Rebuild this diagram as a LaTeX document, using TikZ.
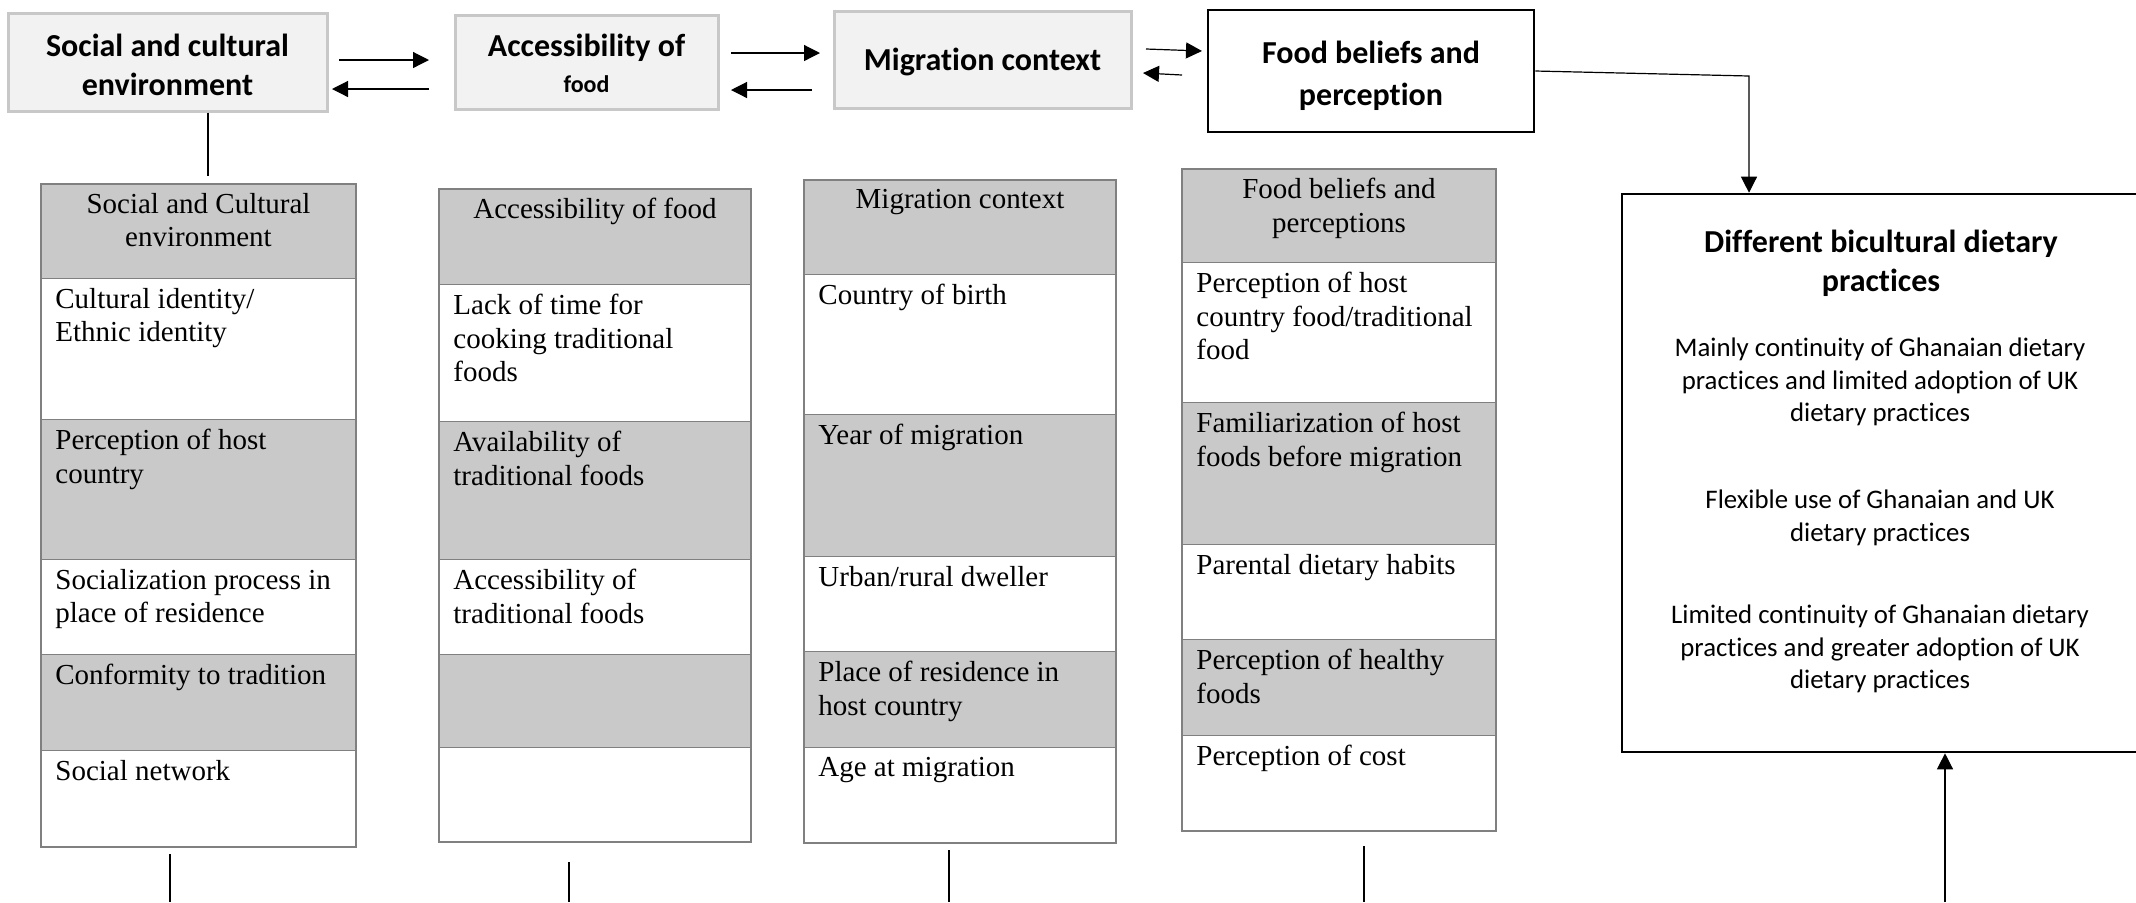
\documentclass[tikz,border=0pt]{standalone}
\usepackage{fontspec}
\setmainfont{Liberation Serif}
\newfontfamily\calibri[Ligatures=NoCommon]{Carlito}
\usetikzlibrary{arrows.meta,fit}

\definecolor{topfill}{HTML}{F2F2F2}
\definecolor{topline}{HTML}{C8C8C8}
\definecolor{cellgray}{HTML}{C9C9C9}
\definecolor{framegray}{HTML}{808080}

\tikzset{
  topbox/.style={draw=topline, fill=topfill, line width=1.5pt, inner sep=0pt},
  keybox/.style={draw=black, fill=white, line width=1.3pt, inner sep=0pt},
  toptext/.style={align=center, font=\calibri\bfseries\fontsize{16}{19.5}\selectfont},
  colframe/.style={draw=framegray, line width=1.2pt, inner sep=0pt},
  rowline/.style={draw=framegray, line width=1.2pt},
  celltext/.style={anchor=north west, inner xsep=7pt, inner ysep=4.4pt, align=left,
    font=\fontsize{14.5}{16.7}\selectfont},
  headtext/.style={anchor=north, inner xsep=0pt, inner ysep=4.4pt, align=center,
    font=\fontsize{14.5}{16.7}\selectfont},
  outtitle/.style={align=center, inner sep=0pt, font=\calibri\bfseries\fontsize{16}{19.5}\selectfont},
  outtext/.style={align=center, inner sep=0pt, font=\calibri\fontsize{13.4}{16.3}\selectfont},
  link/.style={line width=0.6pt},
  arr/.style={link, -{Triangle[length=8pt,width=8pt]}},
}

% one row of a factor column: name, x1, y1, x2, y2, fill, text
\newcommand\cellbox[7]{%
  \fill[#6] (#2,#3) rectangle (#4,#5);
  \node[celltext] (#1) at (#2,#3) {#7};
  \draw[rowline] (#2,#5) -- (#4,#5);}
% header row of a factor column: name, x1, y1, x2, y2, x-middle, text
\newcommand\headbox[7]{%
  \fill[cellgray] (#2,#3) rectangle (#4,#5);
  \node[headtext] (#1) at (#6,#3) {#7};
  \draw[rowline] (#2,#5) -- (#4,#5);}

\begin{document}
\begin{tikzpicture}[x=0.5pt,y=-0.5pt]
\useasboundingbox (0,0) rectangle (2136,902);

% ---- top row of influence boxes ----
\node[topbox, fit={(8,13) (327,111)}] (b1) {};
\node[toptext] (b1t) at ([yshift=-1.4pt]b1.center) {Social and cultural\\environment};
\node[topbox, fit={(455,15) (718,109)}] (b2) {};
\node[toptext] (b2t) at ([yshift=-0.8pt]b2.center)
  {Accessibility of\\[-1.6pt]{\fontsize{12}{14}\selectfont food}};
\node[topbox, fit={(834,11) (1131,108)}] (b3) {};
\node[toptext] (b3t) at ([yshift=-1.4pt]b3.center) {Migration context};
\node[keybox, fit={(1208,10) (1534,132)}] (b4) {};
\node[toptext] (b4t) at ([yshift=-2.4pt]b4.center) {Food beliefs and\\[1.2pt]perception};

% arrows between the top boxes
\coordinate (a1s) at (339,60);  \coordinate (a1e) at (429,60);
\coordinate (a2s) at (429,89);  \coordinate (a2e) at (332,89);
\coordinate (a3s) at (731,53);  \coordinate (a3e) at (820,53);
\coordinate (a4s) at (812,90);  \coordinate (a4e) at (731,90);
\coordinate (a5s) at (1146,49); \coordinate (a5e) at (1202,51);
\coordinate (a6s) at (1182,75); \coordinate (a6e) at (1143,73);
\draw[arr] (a1s) -- (a1e);
\draw[arr] (a2s) -- (a2e);
\draw[arr] (a3s) -- (a3e);
\draw[arr] (a4s) -- (a4e);
\draw[arr] (a5s) -- (a5e);
\draw[arr] (a6s) -- (a6e);

% ---- outcome box ----
\node[draw=black, line width=1.3pt, inner sep=0pt, fit={(1622,194) (2150,752)}] (rb) {};
\node[outtitle] (rbt) at (1881,263) {Different bicultural dietary\\practices};
\node[outtext] (rb1) at (1880,382) {Mainly continuity of Ghanaian dietary\\practices and limited adoption of UK\\dietary practices};
\node[outtext] (rb2) at (1880,518) {Flexible use of Ghanaian and UK\\dietary practices};
\node[outtext] (rb3) at (1880,649) {Limited continuity of Ghanaian dietary\\practices and greater adoption of UK\\dietary practices};

\coordinate (turn) at (1749,76);
\draw[arr] (b4.east) -- (turn) -- (turn |- rb.north);
\coordinate (rbin) at (1945,902);
\draw[arr] (rbin) -- (rbin |- rb.south);

% ---- column 1: social and cultural environment ----
\headbox{h1}{41}{184}{356}{279}{198.5}{Social and Cultural\\environment}
\cellbox{c1r1}{41}{279}{356}{420}{white}{Cultural identity/\\Ethnic identity}
\cellbox{c1r2}{41}{420}{356}{560}{cellgray}{Perception of host\\country}
\cellbox{c1r3}{41}{560}{356}{655}{white}{Socialization process in\\place of residence}
\cellbox{c1r4}{41}{655}{356}{751}{cellgray}{Conformity to tradition}
\cellbox{c1r5}{41}{751}{356}{847}{white}{Social network}
\node[colframe, fit={(41,184) (356,847)}] (c1) {};

% ---- column 2: accessibility of food ----
\headbox{h2}{439}{189}{751}{285}{595}{Accessibility of food}
\cellbox{c2r1}{439}{285}{751}{422}{white}{Lack of time for\\cooking traditional\\foods}
\cellbox{c2r2}{439}{422}{751}{560}{cellgray}{Availability of\\traditional foods}
\cellbox{c2r3}{439}{560}{751}{655}{white}{Accessibility of\\traditional foods}
\cellbox{c2r4}{439}{655}{751}{748}{cellgray}{}
\cellbox{c2r5}{439}{748}{751}{842}{white}{}
\node[colframe, fit={(439,189) (751,842)}] (c2) {};

% ---- column 3: migration context ----
\headbox{h3}{804}{180}{1116}{275}{960}{Migration context}
\cellbox{c3r1}{804}{275}{1116}{415}{white}{Country of birth}
\cellbox{c3r2}{804}{415}{1116}{557}{cellgray}{Year of migration}
\cellbox{c3r3}{804}{557}{1116}{652}{white}{Urban/rural dweller}
\cellbox{c3r4}{804}{652}{1116}{748}{cellgray}{Place of residence in\\host country}
\cellbox{c3r5}{804}{748}{1116}{843}{white}{Age at migration}
\node[colframe, fit={(804,180) (1116,843)}] (c3) {};

% ---- column 4: food beliefs and perceptions ----
\headbox{h4}{1182}{169}{1496}{263}{1339}{Food beliefs and\\perceptions}
\cellbox{c4r1}{1182}{263}{1496}{403}{white}{Perception of host\\country food/traditional\\food}
\cellbox{c4r2}{1182}{403}{1496}{545}{cellgray}{Familiarization of host\\foods before migration}
\cellbox{c4r3}{1182}{545}{1496}{640}{white}{Parental dietary habits}
\cellbox{c4r4}{1182}{640}{1496}{736}{cellgray}{Perception of healthy\\foods}
\cellbox{c4r5}{1182}{736}{1496}{831}{white}{Perception of cost}
\node[colframe, fit={(1182,169) (1496,831)}] (c4) {};

% ---- vertical links ----
\coordinate (d1) at (208,176);
\draw[link] (d1 |- b1.south) -- (d1);
\coordinate (o1) at (170,902);
\coordinate (o2) at (569,902);
\coordinate (o3) at (949,902);
\coordinate (o4) at (1364,902);
\draw[link] ([yshift=-3pt]o1 |- c1.south) -- (o1);
\draw[link] ([yshift=-9.5pt]o2 |- c2.south) -- (o2);
\draw[link] ([yshift=-3pt]o3 |- c3.south) -- (o3);
\draw[link] ([yshift=-7pt]o4 |- c4.south) -- (o4);
\end{tikzpicture}
\end{document}
